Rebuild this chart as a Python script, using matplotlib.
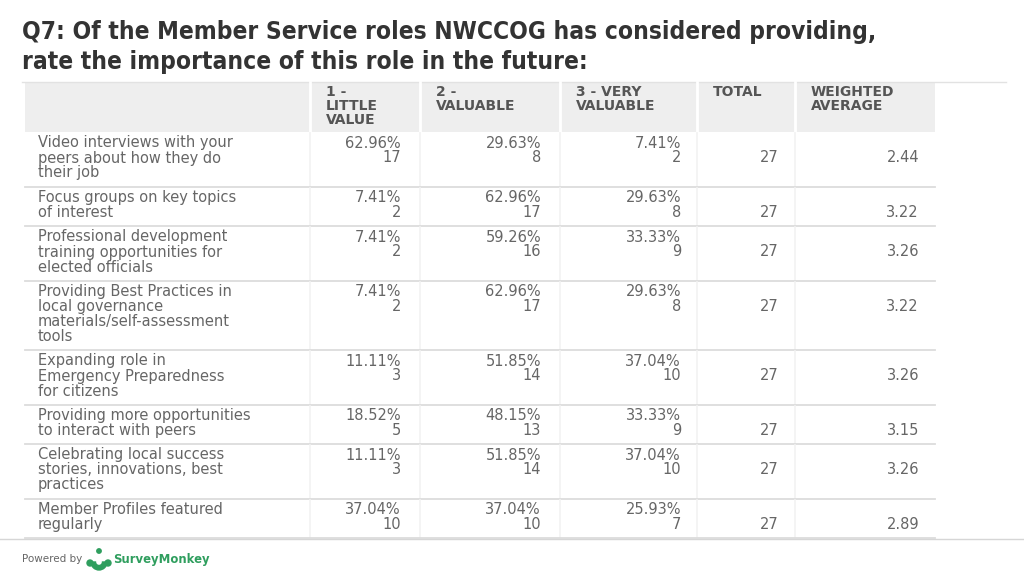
import matplotlib
matplotlib.use("Agg")
import matplotlib.pyplot as plt
from matplotlib.patches import Rectangle, Wedge, Circle

# ---------------- data ----------------
title_lines = ["Q7: Of the Member Service roles NWCCOG has considered providing,",
               "rate the importance of this role in the future:"]
headers = ["1 -\nLITTLE\nVALUE", "2 -\nVALUABLE", "3 - VERY\nVALUABLE", "TOTAL", "WEIGHTED\nAVERAGE"]
row_labels = [
    "Video interviews with your\npeers about how they do\ntheir job",
    "Focus groups on key topics\nof interest",
    "Professional development\ntraining opportunities for\nelected officials",
    "Providing Best Practices in\nlocal governance\nmaterials/self-assessment\ntools",
    "Expanding role in\nEmergency Preparedness\nfor citizens",
    "Providing more opportunities\nto interact with peers",
    "Celebrating local success\nstories, innovations, best\npractices",
    "Member Profiles featured\nregularly",
]
pct_little = ["62.96%", "7.41%", "7.41%", "7.41%", "11.11%", "18.52%", "11.11%", "37.04%"]
n_little = [17, 2, 2, 2, 3, 5, 3, 10]
pct_valuable = ["29.63%", "62.96%", "59.26%", "62.96%", "51.85%", "48.15%", "51.85%", "37.04%"]
n_valuable = [8, 17, 16, 17, 14, 13, 14, 10]
pct_very = ["7.41%", "29.63%", "33.33%", "29.63%", "37.04%", "33.33%", "37.04%", "25.93%"]
n_very = [2, 8, 9, 8, 10, 9, 10, 7]
totals = [27, 27, 27, 27, 27, 27, 27, 27]
weighted = ["2.44", "3.22", "3.26", "3.22", "3.26", "3.15", "3.26", "2.89"]

# ---------------- layout (pixels) ----------------
W, H = 1024, 576
fig = plt.figure(figsize=(W / 100, H / 100), dpi=100)
ax = fig.add_axes([0, 0, 1, 1])
ax.set_xlim(0, W)
ax.set_ylim(H, 0)
ax.axis("off")

col_edges = [25, 310, 420, 560, 697, 795, 935]
header_top, header_bot = 82, 132
line_h = 15.0

TXT = "#666666"
HDR = "#555555"
GRID = "#dcdcdc"
FS = 10.5
body_kw = dict(family="DejaVu Sans", stretch="normal", color=TXT, fontsize=FS, va="center")

# title
for i, t in enumerate(title_lines):
    ax.text(22, 32 + 30 * i, t, fontsize=17.6, fontweight="bold", color="#333333",
            family="DejaVu Sans", stretch="condensed", va="center", ha="left")

# top rule
ax.plot([22, 1006], [header_top, header_top], color="#e2e2e2", lw=1)

# header background
ax.add_patch(Rectangle((col_edges[0], header_top), col_edges[-1] - col_edges[0],
                       header_bot - header_top, color="#eeeeee", lw=0))
for x in col_edges[1:-1]:
    ax.plot([x, x], [header_top, header_bot], color="white", lw=2)
for j, h in enumerate(headers):
    for k, line in enumerate(h.split("\n")):
        ax.text(col_edges[j + 1] + 16, 92.5 + 13.5 * k, line, fontsize=10, fontweight="bold",
                color=HDR, family="DejaVu Sans", stretch="normal", va="center", ha="left")

# body rows
y = header_bot
num_right = [col_edges[2] - 19, col_edges[3] - 19, col_edges[4] - 16]
for i, lab in enumerate(row_labels):
    nl = lab.count("\n") + 1
    rh = line_h * nl + 9.5
    y0 = y + 11
    y1 = y0 + line_h
    for k, line in enumerate(lab.split("\n")):
        ax.text(38, y0 + line_h * k, line, ha="left", **body_kw)
    for c, (p, n) in enumerate([(pct_little[i], n_little[i]),
                                (pct_valuable[i], n_valuable[i]),
                                (pct_very[i], n_very[i])]):
        ax.text(num_right[c], y0, p, ha="right", **body_kw)
        ax.text(num_right[c], y1, str(n), ha="right", **body_kw)
    ax.text(col_edges[5] - 16, y1, str(totals[i]), ha="right", **body_kw)
    ax.text(col_edges[6] - 16, y1, weighted[i], ha="right", **body_kw)
    # vertical separators
    for x in col_edges[1:-1]:
        ax.plot([x, x], [y + 1, y + rh - 1], color="#f2f2f2", lw=1.2)
    y += rh
    ax.plot([col_edges[0], col_edges[-1]], [y, y], color=GRID, lw=1.3)

# bottom rule
ax.plot([0, W], [539, 539], color="#d6d6d6", lw=1)

# footer
ax.text(22, 559, "Powered by", fontsize=7.5, color="#666666", family="DejaVu Sans",
        stretch="normal", va="center", ha="left")
green = "#2f9e5e"
ax.add_patch(Wedge((99, 562), 8, 0, 180, width=4.5, color=green))
ax.add_patch(Circle((90, 563), 3, color=green))
ax.add_patch(Circle((108, 563), 3, color=green))
ax.add_patch(Circle((99, 551), 2.2, color=green))
ax.text(113, 559, "SurveyMonkey", fontsize=8.4, fontweight="bold", color=green,
        family="DejaVu Sans", stretch="normal", va="center", ha="left")

fig.savefig("out.png", dpi=100)
